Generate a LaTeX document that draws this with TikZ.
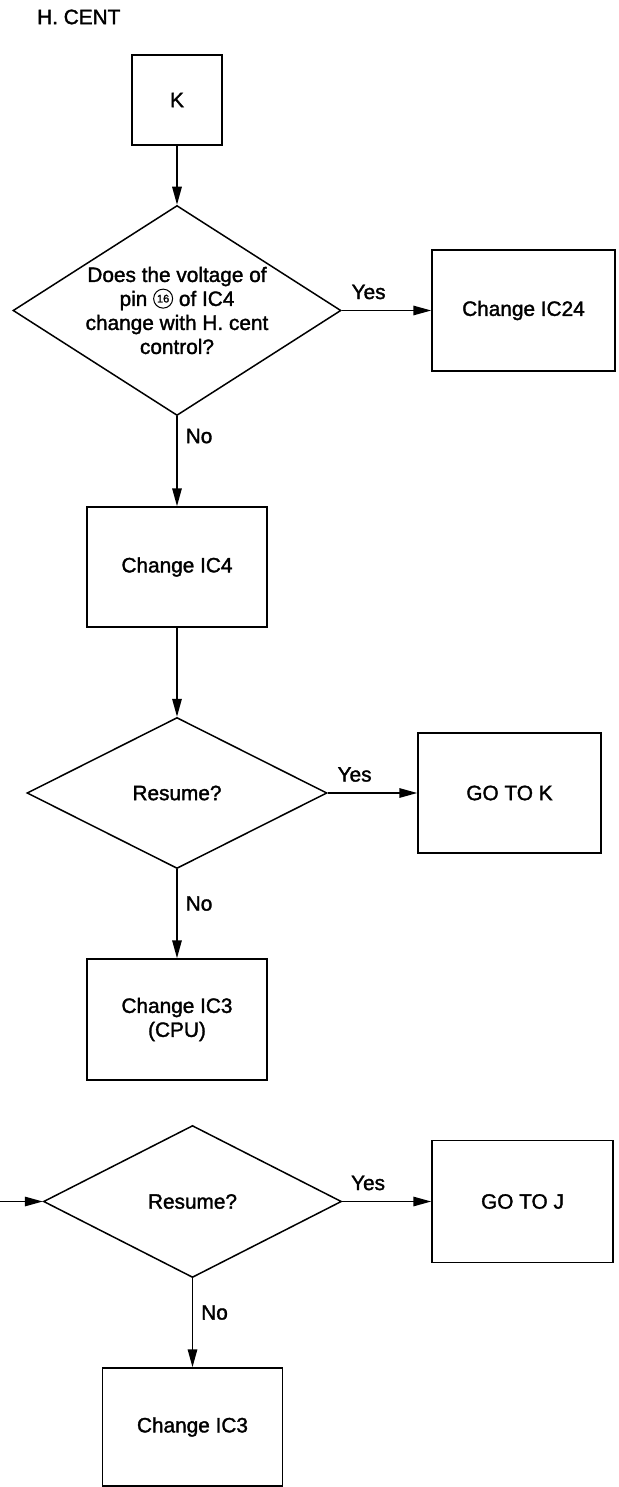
\documentclass[tikz,border=0pt]{standalone}
\usepackage{fontspec}
\setmainfont{Liberation Sans}[FakeBold=1.6]
\usetikzlibrary{shapes.geometric,arrows.meta}

% pin number set inside a small circle
\newcommand{\circnum}[1]{\tikz[baseline={([yshift=-7.3pt]circpin.center)}]
  \node[circle,draw,line width=1pt,minimum size=19pt,inner sep=0pt,
        font=\fontsize{11}{11}\selectfont] (circpin) {#1};}

\begin{document}
\begin{tikzpicture}[x=1pt,y=-1pt,
  every node/.style={font=\fontsize{20.8}{24}\selectfont},
  box/.style={draw,line width=1.5pt,inner sep=0pt,align=center},
  decision/.style={draw,diamond,line width=1.5pt,inner sep=0pt,align=center},
  flow/.style={line width=1.5pt,-{Triangle[length=18pt,width=9.5pt]}},
  lab/.style={inner sep=0pt}]

\useasboundingbox (0,0) rectangle (618,1487);

\node[anchor=west,inner sep=0pt] (title) at (37,17) {H. CENT};

\node[box,minimum width=90pt,minimum height=90pt] (K) at (177,100) {K};

\node[decision,minimum width=328pt,minimum height=210pt,shape aspect=1.56]
  (d1) at (177,310.5)
  {Does the voltage of\\pin \circnum{16} of IC4\\change with H. cent\\control?};
\node[box,minimum width=183pt,minimum height=121pt] (ic24) at (523.5,310.5) {Change IC24};

\node[box,minimum width=180pt,minimum height=120pt] (ic4) at (177,567) {Change IC4};

\node[decision,minimum width=300pt,minimum height=151pt] (d2) at (177,793) {Resume?};
\node[box,minimum width=183pt,minimum height=120pt] (gotoK) at (509.5,793) {GO TO K};

\node[box,minimum width=180pt,minimum height=121pt] (cpu) at (177,1019.5) {Change IC3\\(CPU)};

\coordinate (entry) at (0,1201.5);
\node[decision,minimum width=298pt,minimum height=152pt] (d3) at (192.5,1201.5) {Resume?};
\node[box,minimum width=181pt,minimum height=122pt] (gotoJ) at (522.5,1201.5) {GO TO J};

\node[box,minimum width=180pt,minimum height=118pt] (ic3) at (192.5,1427) {Change IC3};

% connectors
\draw[flow] (K.south) -- (d1.north);
\draw[flow] (d1.east) -- (ic24.west) node[lab,pos=0.3,above=10.5pt] {Yes};
\draw[flow] (d1.south) -- (ic4.north) node[lab,pos=0.22,right=8pt] {No};
\draw[flow] (ic4.south) -- (d2.north);
\draw[flow] (d2.east) -- (gotoK.west) node[lab,pos=0.3,above=10.5pt] {Yes};
\draw[flow] (d2.south) -- (cpu.north) node[lab,pos=0.385,right=8pt] {No};
\draw[flow] (entry) -- (d3.west);
\draw[flow] (d3.east) -- (gotoJ.west) node[lab,pos=0.29,above=10.5pt] {Yes};
\draw[flow] (d3.south) -- (ic3.north) node[lab,pos=0.385,right=8pt] {No};
\end{tikzpicture}
\end{document}
